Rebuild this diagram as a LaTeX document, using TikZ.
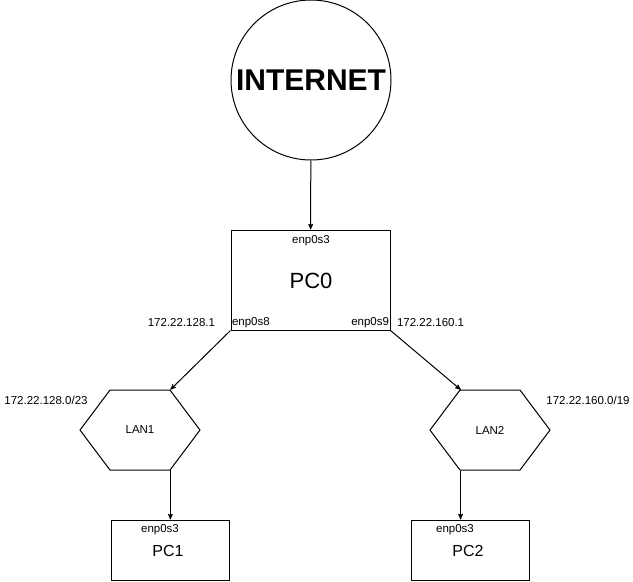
\documentclass[tikz,border=0pt]{standalone}
\usepackage{fontspec}
\setmainfont{Liberation Sans}
\usepackage{tikz}
\usetikzlibrary{arrows,positioning,shapes.geometric,shapes.symbols}
\tikzstyle{post}=[->,shorten >=0pt,>=stealth']
\tikzstyle{cloud}=[circle,draw,line width=1pt,minimum size=160pt,inner sep=0pt,font=\fontsize{30}{32}\selectfont\bfseries]
\tikzstyle{pc}=[rectangle,draw,line width=1pt,inner sep=0pt]
\tikzstyle{lan}=[signal,signal to=east and west,signal pointer angle=106.26,draw,line width=1pt,minimum width=120pt,minimum height=80pt,inner sep=0pt,font=\fontsize{11.5}{13}\selectfont]
\tikzstyle{iface}=[inner sep=1pt,font=\fontsize{11.5}{13}\selectfont]

\begin{document}
\begin{tikzpicture}[x=1pt,y=1pt,->,>=stealth',line width=1pt]
    \useasboundingbox (0,0) rectangle (633,-582);

    \node[cloud] (INT) at (311,-80) {INTERNET};
    \node[pc,minimum width=159pt,minimum height=100pt] (PC0) at (310.5,-280) {};
    \node[pc,minimum width=118pt,minimum height=60pt] (PC1) at (170,-550) {};
    \node[pc,minimum width=118pt,minimum height=60pt] (PC2) at (470,-550) {};
    \node[lan] (LAN1) at (140,-430) {LAN1};
    \node[lan] (LAN2) at (490,-430) {LAN2};

    % labels inside the boxes
    \node[iface] (pc0if) at (311,-241) {enp0s3};
    \node[font=\fontsize{22}{24}\selectfont] (pc0lbl) at (311,-281) {PC0};
    \node[iface,anchor=south west] (if8) at ([yshift=1pt]PC0.south west) {enp0s8};
    \node[iface,anchor=south east] (if9) at ([yshift=1pt]PC0.south east) {enp0s9};
    \node[iface,left=14pt of if8] (ip1) {172.22.128.1};
    \node[iface,right=5pt of if9] (ip2) {172.22.160.1};
    \node[iface] (net1) at (46,-400) {172.22.128.0/23};
    \node[iface] (net2) at (588,-400) {172.22.160.0/19};
    \node[iface] (pc1if) at (160,-530) {enp0s3};
    \node[font=\fontsize{16}{18}\selectfont] (pc1lbl) at (168,-551) {PC1};
    \node[iface] (pc2if) at (455,-530) {enp0s3};
    \node[font=\fontsize{16}{18}\selectfont] (pc2lbl) at (468,-551) {PC2};

    \draw (INT) -- (PC0);
    \draw (PC0.south west) -- (LAN1.53.13);
    \draw (PC0.south east) -- (LAN2.126.87);
    \draw (LAN1.-53.13) -- (LAN1.-53.13 |- PC1.north);
    \draw (LAN2.-126.87) -- (LAN2.-126.87 |- PC2.north);

\end{tikzpicture}
\end{document}
